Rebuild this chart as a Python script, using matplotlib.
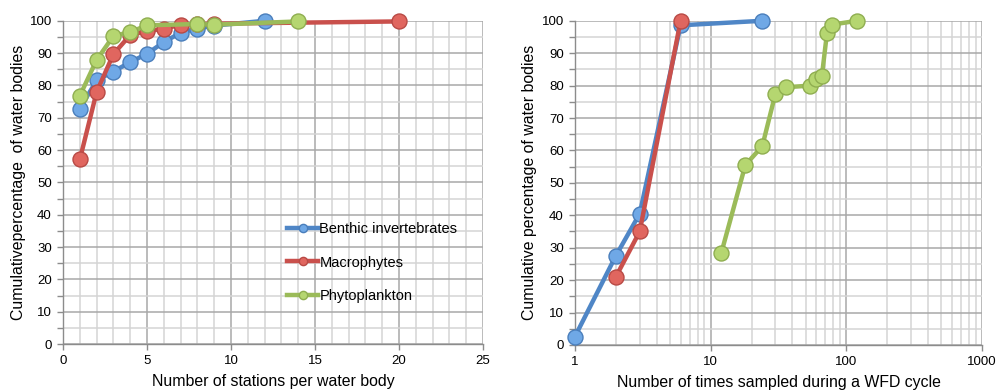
import matplotlib
matplotlib.use("Agg")
import matplotlib.pyplot as plt
from matplotlib.ticker import MultipleLocator, FixedLocator, NullFormatter

plt.rcParams['font.family'] = ['Liberation Sans', 'DejaVu Sans']

# left panel: number of stations per water body
benthic_st_x = [1, 2, 3, 4, 5, 6, 7, 8, 9, 12]
benthic_st_y = [72.8, 81.6, 84.3, 87.2, 89.8, 93.4, 96.3, 97.6, 98.5, 100]
macro_st_x = [1, 2, 3, 4, 5, 6, 7, 8, 9, 20]
macro_st_y = [57.1, 78.0, 89.7, 95.6, 96.8, 97.5, 98.8, 99.0, 99.1, 99.8]
phyto_st_x = [1, 2, 3, 4, 5, 8, 9, 14]
phyto_st_y = [76.8, 87.9, 95.3, 96.5, 98.6, 99.0, 98.8, 99.8]

# right panel: number of times sampled during a WFD cycle
benthic_t_x = [1, 2, 3, 6, 24]
benthic_t_y = [2.6, 27.5, 40.5, 98.6, 100]
macro_t_x = [2, 3, 6]
macro_t_y = [21.0, 35.0, 100]
phyto_t_x = [12, 18, 24, 30, 36, 54, 60, 66, 72, 78, 120]
phyto_t_y = [28.5, 55.5, 61.3, 77.5, 79.5, 80.0, 82.0, 83.0, 96.3, 98.8, 100]

labels = ['Benthic invertebrates', 'Macrophytes', 'Phytoplankton']
line_cols = ['#4F86C6', '#C9504C', '#9BBB59']
face_cols = ['#6FA8E6', '#E0665F', '#B5D670']
edge_cols = ['#4A7EBB', '#B84A45', '#8FAE50']

minor_col = '#d4d4d4'
major_col = '#a8a8a8'

fig = plt.figure(figsize=(9.96, 3.92), dpi=100)
ax1 = fig.add_axes([0.0633, 0.1224, 0.4217, 0.8246])
ax2 = fig.add_axes([0.5773, 0.12, 0.4087, 0.827])


def style_axes(ax):
    ax.set_ylim(0, 100)
    ax.yaxis.set_major_locator(MultipleLocator(10))
    ax.yaxis.set_minor_locator(MultipleLocator(5))
    ax.grid(which='minor', color=minor_col, linewidth=1.1, zorder=0)
    ax.grid(which='major', color=major_col, linewidth=1.1, zorder=0)
    ax.set_axisbelow(True)
    for side in ['top', 'right']:
        ax.spines[side].set_visible(False)
    for side in ['left', 'bottom']:
        ax.spines[side].set_color('#8c8c8c')
        ax.spines[side].set_linewidth(1.0)
    ax.tick_params(which='both', direction='out', color='#8c8c8c', labelsize=9.5,
                   length=4, width=1, pad=4)
    ax.tick_params(axis='x', which='minor', length=0)


def draw(ax, xs, ys, i):
    ax.plot(xs, ys, color=line_cols[i], linewidth=3.2, marker='o', markersize=10.8,
            markerfacecolor=face_cols[i], markeredgecolor=edge_cols[i],
            markeredgewidth=1.0, label=labels[i], zorder=3 + i, clip_on=False)


style_axes(ax1)
ax1.set_xlim(0, 25)
ax1.xaxis.set_major_locator(MultipleLocator(5))
ax1.xaxis.set_minor_locator(MultipleLocator(1))
draw(ax1, benthic_st_x, benthic_st_y, 0)
draw(ax1, macro_st_x, macro_st_y, 1)
draw(ax1, phyto_st_x, phyto_st_y, 2)
ax1.set_xlabel('Number of stations per water body', fontsize=11.4, labelpad=5)
ax1.set_ylabel('Cumulativepercentage  of water bodies', fontsize=11.4, labelpad=3)

leg = ax1.legend(loc='upper left', bbox_to_anchor=(0.52, 0.395), frameon=False,
                 fontsize=10.5, handlelength=2.1, handletextpad=0.1, labelspacing=1.33,
                 markerscale=0.55, borderaxespad=0)

style_axes(ax2)
ax2.set_xscale('log')
ax2.set_xlim(1, 1000)
ax2.xaxis.set_major_locator(FixedLocator([1, 10, 100, 1000]))
ax2.xaxis.set_major_formatter(matplotlib.ticker.FixedFormatter(['1', '10', '100', '1000']))
ax2.xaxis.set_minor_locator(matplotlib.ticker.LogLocator(base=10, subs=range(2, 10)))
ax2.xaxis.set_minor_formatter(NullFormatter())
draw(ax2, benthic_t_x, benthic_t_y, 0)
draw(ax2, macro_t_x, macro_t_y, 1)
draw(ax2, phyto_t_x, phyto_t_y, 2)
ax2.set_xlabel('Number of times sampled during a WFD cycle', fontsize=11.4, labelpad=5)
ax2.set_ylabel('Cumulative percentage of water bodies', fontsize=11.4, labelpad=3)

fig.savefig('out.png', dpi=100)
